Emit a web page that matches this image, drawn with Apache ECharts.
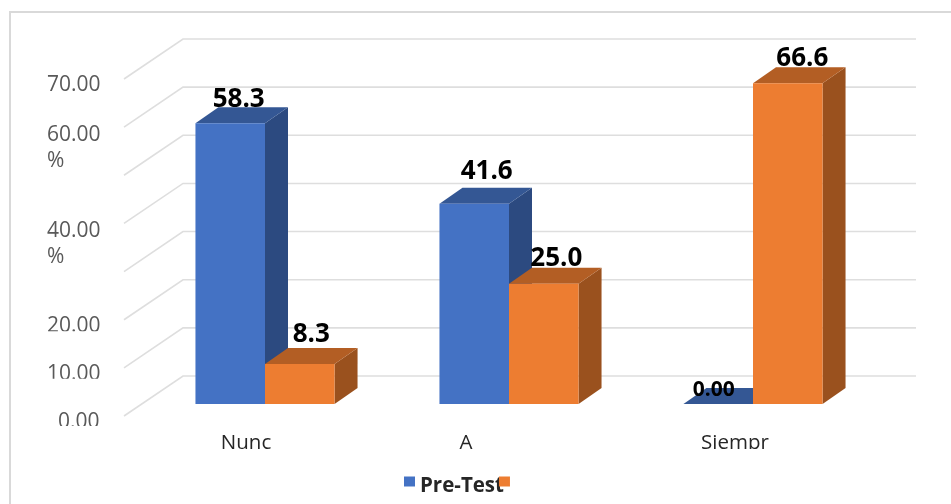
<!DOCTYPE html>
<html>
<head>
<meta charset="utf-8">
<style>html,body{margin:0;padding:0;background:#fff}#c{width:951px;height:504px}</style>
<script src="https://cdn.jsdelivr.net/npm/echarts@6/dist/echarts.min.js"></script>
</head>
<body>
<div id="c"></div>
<script>
const categories = ['Nunc', 'A', 'Siempr'];
const preTest = [58.3, 41.6, 0];
const postTest = [8.3, 25.0, 66.6];
const tickValues = [0, 10, 20, 30, 40, 50, 60, 70];
const tickLabels = ['\u00a0\u00a00.00', '10.00', '20.00', '', '{a|40.00}\n{b|%}', '', '{a|60.00}\n{b|%}', '70.00'];
const seriesNames = ['Pre-Test', ' '];

const FONT = '"Open Sans"';
const DEPTH_X = 23, DEPTH_Y = 16;
const catShift = { Nunc: 38, A: 86, Siempr: 36 };
const labelNudge = {
  '0-0': [-3, 1], '0-1': [1, -7], '0-2': [-16, 9],
  '1-0': [0, -4], '1-1': [1, 0], '1-2': [3, 0]
};

function barRenderer(seriesIdx, face, side, top) {
  return function (params, api) {
    const i = api.value(0), v = api.value(1);
    const c = api.coord([i, v]), base = api.coord([i, 0]);
    const w = api.size([1, 0])[0] * 0.285;
    const x0 = seriesIdx === 0 ? c[0] - w : c[0], x1 = x0 + w;
    const y = c[1], b = base[1];
    const n = labelNudge[seriesIdx + '-' + i];
    const small = v === 0;
    return {
      type: 'group',
      children: [
        { type: 'polygon', shape: { points: [[x1, y], [x1 + DEPTH_X, y - DEPTH_Y], [x1 + DEPTH_X, b - DEPTH_Y], [x1, b]] }, style: { fill: side } },
        { type: 'polygon', shape: { points: [[x0, y], [x0 + DEPTH_X, y - DEPTH_Y], [x1 + DEPTH_X, y - DEPTH_Y], [x1, y]] }, style: { fill: top } },
        { type: 'rect', shape: { x: x0, y: y, width: w, height: b - y }, style: { fill: face } },
        {
          type: 'text', z2: 50,
          style: {
            text: small ? '0.00' : v.toFixed(1),
            x: (x0 + x1 + DEPTH_X) / 2 + n[0],
            y: y - DEPTH_Y + n[1] + 4,
            align: 'center', verticalAlign: 'bottom',
            fill: '#000', font: 'bold ' + (small ? 21 : 26) + 'px ' + FONT
          }
        }
      ]
    };
  };
}

const option = {
  animation: false,
  backgroundColor: '#fff',
  grid: { left: 143, top: 67, width: 732, height: 337, containLabel: false },
  graphic: [{
    type: 'rect', silent: true, z: 0,
    shape: { x: 10, y: 12, width: 1200, height: 800 },
    style: { fill: 'none', stroke: '#D9D9D9', lineWidth: 2 }
  }],
  legend: {
    data: seriesNames, left: 404, top: 469, icon: 'rect',
    itemWidth: 11, itemHeight: 10, itemGap: -5, padding: 0,
    selectedMode: false,
    formatter: function (name) { return '{s| }\n{t|' + name + '}'; },
    textStyle: {
      rich: {
        s: { fontSize: 4, lineHeight: 10 },
        t: { fontFamily: FONT, fontWeight: 'bold', fontSize: 20.5, color: '#262626' }
      }
    }
  },
  xAxis: {
    type: 'category', data: categories,
    axisLine: { show: false }, axisTick: { show: false }, splitLine: { show: false },
    axisLabel: {
      interval: 0, margin: 29, color: '#262626',
      formatter: function (v) { return '{c' + categories.indexOf(v) + '|' + v + '}'; },
      rich: Object.fromEntries(categories.map((c, i) => ['c' + i, {
        fontFamily: FONT, fontSize: 20.5, color: '#262626', padding: [0, catShift[c], 0, 0]
      }]))
    }
  },
  yAxis: {
    type: 'value', min: 0, max: 70, interval: 10,
    axisLine: { show: false }, axisTick: { show: false }, splitLine: { show: false },
    axisLabel: {
      margin: 96, align: 'left', verticalAlign: 'top', lineHeight: 26, padding: [5, 0, 0, 0],
      fontFamily: FONT, fontSize: 21, color: '#595959',
      rich: {
        a: { fontFamily: FONT, fontSize: 21, color: '#595959', lineHeight: 30 },
        b: { fontFamily: FONT, fontSize: 21, color: '#595959', lineHeight: 22 }
      },
      formatter: function (v) { return tickLabels[tickValues.indexOf(v)]; }
    }
  },
  series: [
    {
      type: 'custom', name: 'walls', silent: true, z: 1,
      data: tickValues.map(v => [0, v]), encode: { x: 0, y: 1 },
      renderItem: function (params, api) {
        const cs = params.coordSys, y = api.coord([0, api.value(1)])[1];
        return {
          type: 'polyline',
          shape: { points: [[cs.x - 19, y + 12], [cs.x + 40, y - 28], [cs.x + cs.width + 41, y - 28]] },
          style: { fill: 'none', stroke: '#DEDEDE', lineWidth: 1.6 }
        };
      }
    },
    {
      type: 'custom', name: seriesNames[0], z: 3, itemStyle: { color: '#4472C4' },
      data: preTest.map((v, i) => [i, v]), encode: { x: 0, y: 1 },
      renderItem: barRenderer(0, '#4472C4', '#2C4A80', '#345794')
    },
    {
      type: 'custom', name: seriesNames[1], z: 4, itemStyle: { color: '#ED7D31' },
      data: postTest.map((v, i) => [i, v]), encode: { x: 0, y: 1 },
      renderItem: barRenderer(1, '#ED7D31', '#9A511E', '#B35E24')
    },
    {
      type: 'custom', name: 'clip', silent: true, z: 10,
      data: [[0, 0]], encode: { x: 0, y: 1 },
      renderItem: function (params, api) {
        const cs = params.coordSys, zero = cs.y + cs.height;
        const yOf = v => api.coord([0, v])[1];
        const cuts = [[40, yOf(70) + 24, 66, 5], [40, yOf(20) + 23.5, 66, 5], [40, yOf(10) + 23, 66, 5], [40, yOf(0) + 22, 66, 6],
                      [cs.x, zero + 45, cs.width, 12], [395, 493, 125, 11]];
        return {
          type: 'group',
          children: cuts.map(r => ({
            type: 'rect', shape: { x: r[0], y: r[1], width: r[2], height: r[3] }, style: { fill: '#fff' }
          }))
        };
      }
    }
  ]
};

const chart = echarts.init(document.getElementById('c'), null, { renderer: 'canvas' });
chart.setOption(option);
</script>
</body>
</html>
